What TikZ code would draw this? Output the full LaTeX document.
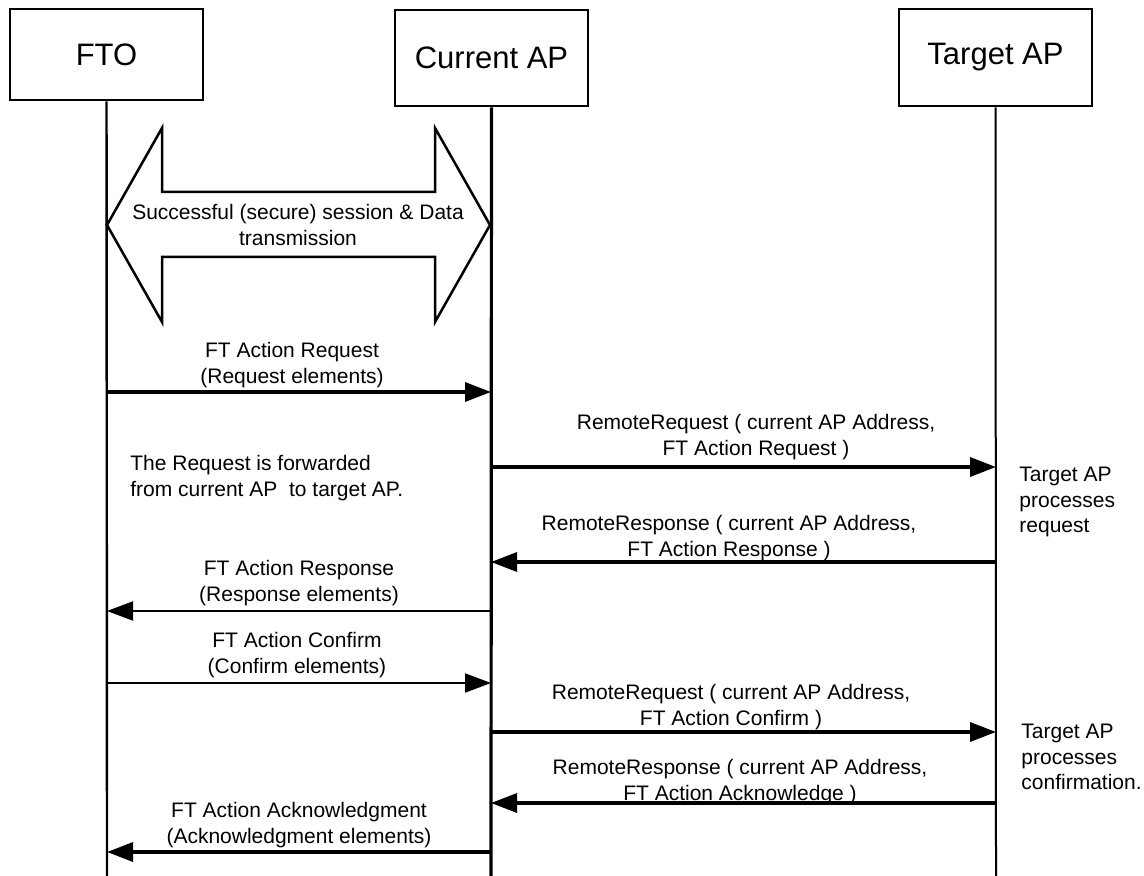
\documentclass[tikz,border=0pt]{standalone}
\usepackage{fontspec}
\setmainfont{Liberation Sans}
\usetikzlibrary{arrows.meta}

\begin{document}
\begin{tikzpicture}[x=0.5pt,y=-0.5pt,
  entity/.style={draw,line width=1.3pt,minimum width=96.5pt,inner sep=0pt,font=\fontsize{15.5}{18}\selectfont},
  life/.style={line width=1.2pt},
  msg/.style={-{Triangle[length=13pt,width=9.5pt]},line width=1.7pt},
  thinmsg/.style={-{Triangle[length=13pt,width=9.5pt]},line width=1pt},
  lbl/.style={align=center,inner sep=0pt,font=\fontsize{10.5}{12.8}\selectfont},
  note/.style={align=left,anchor=west,inner sep=0pt,font=\fontsize{10.5}{12.8}\selectfont}]
  \useasboundingbox (0,0) rectangle (1144,876);
  \node[entity,minimum height=45.5pt] (fto) at (106.5,54.5) {FTO};
  \node[entity,minimum height=48pt] (cur) at (491.5,58) {Current AP};
  \node[entity,minimum height=48.5pt] (tgt) at (995.5,57.5) {Target AP};
  \coordinate (fto-end) at (107,876);
  \coordinate (cur-end) at (491,876);
  \coordinate (tgt-end) at (996,876);
  \draw[life] (fto) -- (fto-end);
  \draw[life,line width=1.6pt] (cur) -- (cur-end);
  \draw[life,line width=1pt] (tgt) -- (tgt-end);
  \draw[line width=1.25pt,fill=white] (107,225) -- (162,128) -- (162,192) -- (435,192) -- (435,128) -- (490,225) -- (435,322) -- (435,257) -- (162,257) -- (162,322) -- cycle;
  \node[lbl] (session) at (298,225) {Successful (secure) session \& Data\\transmission};
  \coordinate (f1) at (107,392);
  \coordinate (c1) at (491,392);
  \coordinate (c2) at (491,467);
  \coordinate (t2) at (996,467);
  \coordinate (t3) at (996,562);
  \coordinate (c3) at (491,562);
  \coordinate (c4) at (491,611);
  \coordinate (f4) at (107,611);
  \coordinate (f5) at (107,683);
  \coordinate (c5) at (491,683);
  \coordinate (c6) at (491,732);
  \coordinate (t6) at (996,732);
  \coordinate (t7) at (996,803);
  \coordinate (c7) at (491,803);
  \coordinate (c8) at (491,852);
  \coordinate (f8) at (107,852);
  \draw[msg] (f1) -- (c1);
  \draw[msg] (c2) -- (t2);
  \draw[msg] (t3) -- (c3);
  \draw[thinmsg] (c4) -- (f4);
  \draw[thinmsg] (f5) -- (c5);
  \draw[msg] (c6) -- (t6);
  \draw[msg] (t7) -- (c7);
  \draw[msg] (c8) -- (f8);
  \node[lbl] (req) at (292,365) {FT Action Request\\(Request elements)};
  \node[lbl] (rreq) at (756,437) {RemoteRequest ( current AP Address,\\FT Action Request )};
  \node[lbl] (rresp) at (729,538) {RemoteResponse ( current AP Address,\\FT Action Response )};
  \node[lbl] (resp) at (299,583) {FT Action Response\\(Response elements)};
  \node[lbl] (conf) at (297,655) {FT Action Confirm\\(Confirm elements)};
  \node[lbl] (rconf) at (731,707) {RemoteRequest ( current AP Address,\\FT Action Confirm )};
  \node[lbl] (rack) at (740,782) {RemoteResponse ( current AP Address,\\FT Action Acknowledge )};
  \node[lbl] (ack) at (299,825) {FT Action Acknowledgment\\(Acknowledgment elements)};
  \node[note] (fwd) at (130,478) {The Request is forwarded\\from current AP \ to target AP.};
  \node[note] (treq) at (1019,502) {Target AP\\processes\\request};
  \node[note] (tconf) at (1021,757) {Target AP\\processes\\confirmation.};
\end{tikzpicture}
\end{document}
